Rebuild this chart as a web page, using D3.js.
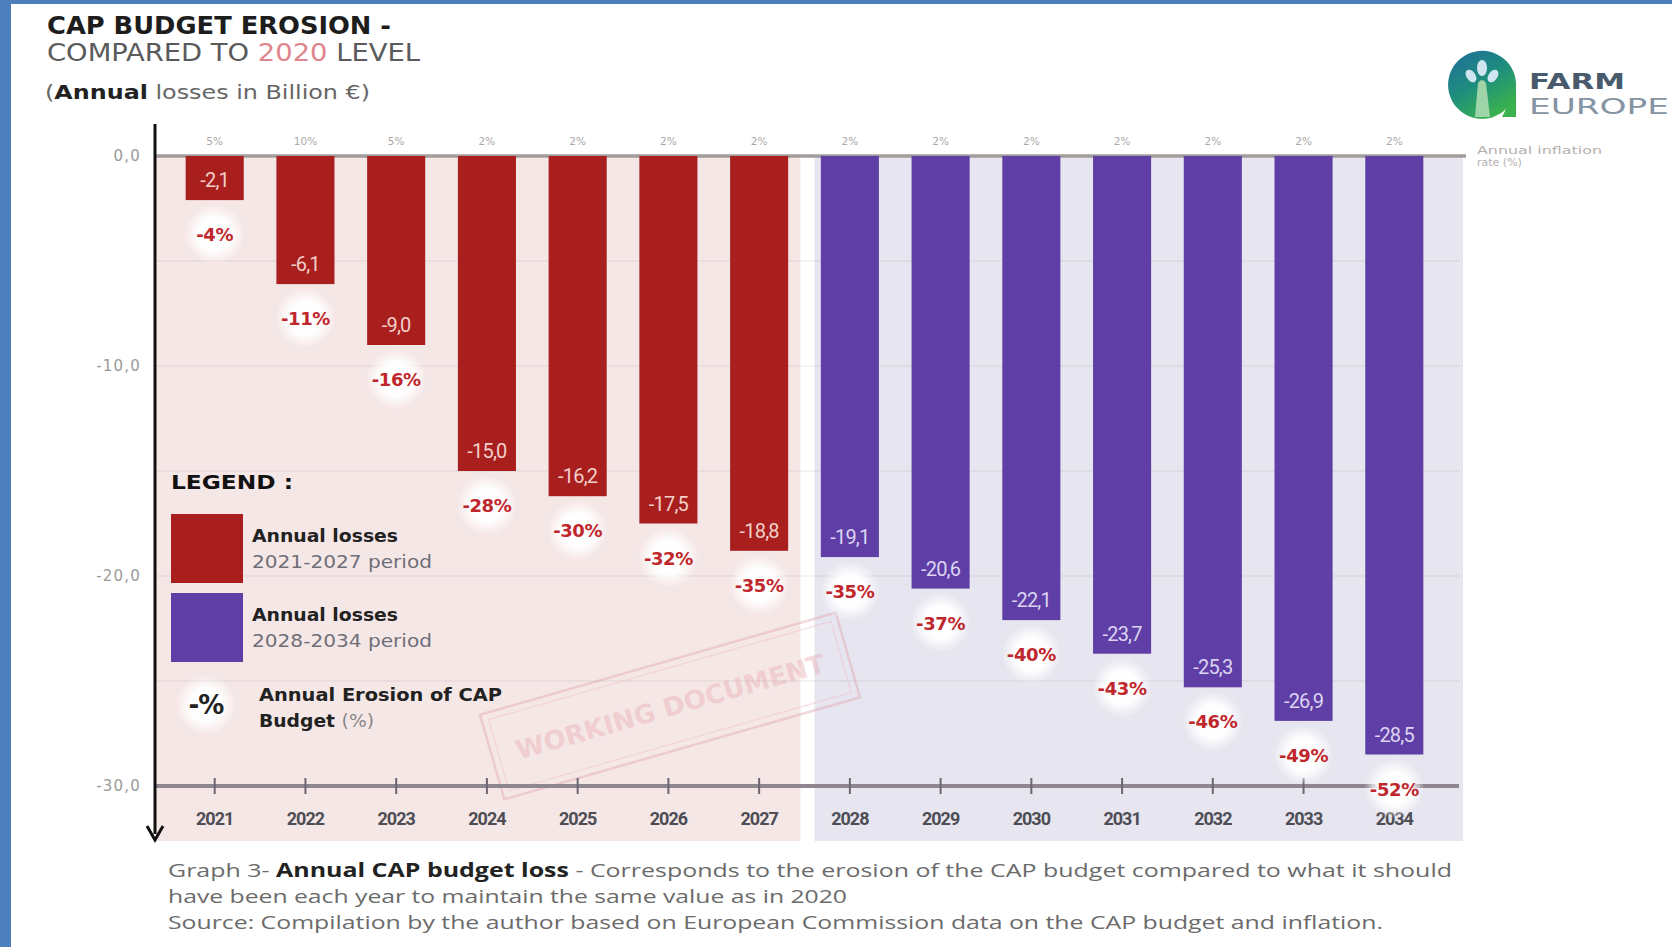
<!DOCTYPE html>
<html>
<head>
<meta charset="utf-8">
<script src="https://cdn.jsdelivr.net/npm/d3@7"></script>
<style>
  html, body { margin: 0; padding: 0; background: #ffffff; }
  svg { display: block; }
</style>
</head>
<body>
<svg id="chart" width="1672" height="947"></svg>
<script>
// ---------- DATA ----------
const years = ["2021","2022","2023","2024","2025","2026","2027","2028","2029","2030","2031","2032","2033","2034"];
const losses = [-2.1, -6.1, -9.0, -15.0, -16.2, -17.5, -18.8, -19.1, -20.6, -22.1, -23.7, -25.3, -26.9, -28.5];
const erosion = [-4, -11, -16, -28, -30, -32, -35, -35, -37, -40, -43, -46, -49, -52];
const inflation = [5, 10, 5, 2, 2, 2, 2, 2, 2, 2, 2, 2, 2, 2];
const periods = ["2021-2027","2021-2027","2021-2027","2021-2027","2021-2027","2021-2027","2021-2027",
                 "2028-2034","2028-2034","2028-2034","2028-2034","2028-2034","2028-2034","2028-2034"];
const yTicks = [0, -10, -20, -30];
const gridTicks = [-5, -10, -15, -20, -25];

// ---------- SETUP ----------
const W = 1672, H = 947;
const svg = d3.select("#chart");
const fmtLocale = d3.formatLocale({decimal: ",", thousands: ".", grouping: [3], currency: ["", "€"], minus: "-"});
const fmt1 = fmtLocale.format(".1f");

const colors = { "2021-2027": "#a81f1e", "2028-2034": "#5f3fa5" };
const panelColors = { "2021-2027": "#f6e7e7", "2028-2034": "#e7e5ef" };
const labelColors = { "2021-2027": "#f3cfc9", "2028-2034": "#dcd4f2" };

const axisX = 155;
const x = d3.scaleBand().domain(years).range([153, 1456]).paddingInner(0.36).paddingOuter(0.36);
const y = d3.scaleLinear().domain([0, -30]).range([156, 786]);

const defs = svg.append("defs");
const halo = defs.append("radialGradient").attr("id", "halo");
halo.append("stop").attr("offset", "0%").attr("stop-color", "#fff").attr("stop-opacity", 1);
halo.append("stop").attr("offset", "55%").attr("stop-color", "#fff").attr("stop-opacity", 0.95);
halo.append("stop").attr("offset", "100%").attr("stop-color", "#fff").attr("stop-opacity", 0);

const logoGrad = defs.append("linearGradient").attr("id", "logoGrad")
  .attr("x1", "0%").attr("y1", "0%").attr("x2", "60%").attr("y2", "100%");
logoGrad.append("stop").attr("offset", "0%").attr("stop-color", "#1f6c9c");
logoGrad.append("stop").attr("offset", "55%").attr("stop-color", "#1e8f7c");
logoGrad.append("stop").attr("offset", "100%").attr("stop-color", "#3bb24e");

// ---------- FRAME (blue border) ----------
svg.append("rect").attr("x", 0).attr("y", 0).attr("width", W).attr("height", 4).attr("fill", "#4d7fbd");
svg.append("rect").attr("x", 0).attr("y", 0).attr("width", 11).attr("height", H).attr("fill", "#4d7fbd");

// ---------- PANELS ----------
const step = x.step();
const mid = x("2027") + x.bandwidth() / 2 + step / 2;
const panelTop = y(0), panelBottom = 841;
svg.append("rect").attr("x", axisX).attr("y", panelTop).attr("width", mid - 4 - axisX)
  .attr("height", panelBottom - panelTop).attr("fill", panelColors["2021-2027"]);
svg.append("rect").attr("x", mid + 10).attr("y", panelTop).attr("width", 1463 - (mid + 10))
  .attr("height", panelBottom - panelTop).attr("fill", panelColors["2028-2034"]);

// gridlines
svg.append("g").selectAll("line").data(gridTicks).join("line")
  .attr("x1", axisX).attr("x2", 1460)
  .attr("y1", d => y(d)).attr("y2", d => y(d))
  .attr("stroke", "#000").attr("stroke-opacity", 0.06).attr("stroke-width", 1.5);

// ---------- WORKING DOCUMENT STAMP ----------
const stamp = svg.append("g").attr("transform", "translate(670,706) rotate(-16)").attr("opacity", 0.42);
stamp.append("rect").attr("x", -185).attr("y", -44).attr("width", 370).attr("height", 88)
  .attr("fill", "none").attr("stroke", "#e3a3ab").attr("stroke-width", 2.5);
stamp.append("rect").attr("x", -178).attr("y", -37).attr("width", 356).attr("height", 74)
  .attr("fill", "none").attr("stroke", "#eec0c5").attr("stroke-width", 1.5);
stamp.append("text").attr("x", 0).attr("y", 10).attr("text-anchor", "middle")
  .attr("font-family", "DejaVu Sans").attr("font-weight", "bold").attr("font-size", 26)
  .attr("fill", "#e6aab1").attr("textLength", 320).attr("lengthAdjust", "spacingAndGlyphs")
  .text("WORKING DOCUMENT");

// ---------- ZERO LINE & X AXIS ----------
svg.append("line").attr("x1", axisX).attr("x2", 1466).attr("y1", y(0)).attr("y2", y(0))
  .attr("stroke", "#a39c9c").attr("stroke-width", 3.5);

const xAxis = d3.axisBottom(x).tickSizeInner(8).tickSizeOuter(0).tickPadding(18);
const gx = svg.append("g").attr("transform", `translate(0,${y(-30)})`).call(xAxis);
gx.select(".domain").remove();
gx.insert("line", ":first-child").attr("x1", axisX).attr("x2", 1459).attr("y1", 0).attr("y2", 0)
  .attr("stroke", "#8e8790").attr("stroke-width", 4);
gx.selectAll(".tick line").attr("y1", -8).attr("y2", 8).attr("stroke", "#6d6670").attr("stroke-width", 2);
gx.selectAll(".tick text").attr("font-family", "Roboto").attr("font-weight", "bold")
  .attr("font-size", 18).attr("fill", "#4d4d55").attr("letter-spacing", -1);

// ---------- Y AXIS ----------
const yAxis = d3.axisLeft(y).tickValues(yTicks).tickSize(0).tickPadding(14).tickFormat(d => fmt1(d));
const gy = svg.append("g").attr("transform", `translate(${axisX},0)`).call(yAxis);
gy.select(".domain").remove();
gy.selectAll(".tick text").attr("font-family", "DejaVu Sans").attr("font-size", 15)
  .attr("letter-spacing", 1.2).attr("fill", "#9a9a9a");
svg.append("line").attr("x1", axisX).attr("x2", axisX).attr("y1", 124).attr("y2", 834)
  .attr("stroke", "#111").attr("stroke-width", 3);
svg.append("path").attr("d", `M${axisX - 8},826 L${axisX},840 L${axisX + 8},826`)
  .attr("fill", "none").attr("stroke", "#111").attr("stroke-width", 3);

// ---------- BARS ----------
const rows = years.map((yr, i) => ({ yr, v: losses[i], e: erosion[i], inf: inflation[i], p: periods[i] }));

svg.append("g").selectAll("rect").data(rows).join("rect")
  .attr("x", d => x(d.yr)).attr("width", x.bandwidth())
  .attr("y", y(0)).attr("height", d => y(d.v) - y(0))
  .attr("fill", d => colors[d.p]);

// value labels inside bars
svg.append("g").selectAll("text").data(rows).join("text")
  .attr("x", d => x(d.yr) + x.bandwidth() / 2).attr("y", d => y(d.v) - 13)
  .attr("text-anchor", "middle").attr("font-family", "Roboto").attr("font-size", 20)
  .attr("letter-spacing", -0.8)
  .attr("fill", d => labelColors[d.p]).text(d => fmt1(d.v));

// inflation labels
svg.append("g").selectAll("text").data(rows).join("text")
  .attr("x", d => x(d.yr) + x.bandwidth() / 2).attr("y", 145)
  .attr("text-anchor", "middle").attr("font-family", "DejaVu Sans").attr("font-size", 10.5)
  .attr("fill", "#aca8a8").text(d => d.inf + "%");

// erosion % halos and labels
const pg = svg.append("g");
pg.selectAll("circle").data(rows).join("circle")
  .attr("cx", d => x(d.yr) + x.bandwidth() / 2).attr("cy", d => y(d.v) + 34)
  .attr("r", 30).attr("fill", "url(#halo)");
pg.selectAll("text").data(rows).join("text")
  .attr("x", d => x(d.yr) + x.bandwidth() / 2).attr("y", d => y(d.v) + 41)
  .attr("text-anchor", "middle").attr("font-family", "DejaVu Sans").attr("font-weight", "bold")
  .attr("font-size", 18).attr("letter-spacing", -0.4).attr("fill", "#c0272d")
  .text(d => d.e + "%");

// ---------- LEGEND ----------
const lg = svg.append("g");
lg.append("text").attr("x", 171).attr("y", 489).attr("font-family", "DejaVu Sans").attr("font-weight", "bold")
  .attr("font-size", 20).attr("fill", "#111").attr("textLength", 122).attr("lengthAdjust", "spacingAndGlyphs")
  .text("LEGEND :");
const legendItems = [
  { p: "2021-2027", y0: 514 },
  { p: "2028-2034", y0: 593 }
];
legendItems.forEach(it => {
  lg.append("rect").attr("x", 171).attr("y", it.y0).attr("width", 72).attr("height", 69).attr("fill", colors[it.p]);
  lg.append("text").attr("x", 252).attr("y", it.y0 + 28).attr("font-family", "DejaVu Sans").attr("font-weight", "bold")
    .attr("font-size", 17).attr("fill", "#222").attr("textLength", 146).attr("lengthAdjust", "spacingAndGlyphs")
    .text("Annual losses");
  lg.append("text").attr("x", 252).attr("y", it.y0 + 54).attr("font-family", "DejaVu Sans")
    .attr("font-size", 17).attr("fill", "#6f6f78").attr("textLength", 180).attr("lengthAdjust", "spacingAndGlyphs")
    .text(it.p + " period");
});
lg.append("circle").attr("cx", 206).attr("cy", 705).attr("r", 30).attr("fill", "url(#halo)");
lg.append("text").attr("x", 206).attr("y", 714).attr("text-anchor", "middle").attr("font-family", "DejaVu Sans")
  .attr("font-weight", "bold").attr("font-size", 26).attr("fill", "#222").attr("letter-spacing", -1).text("-%");
lg.append("text").attr("x", 259).attr("y", 701).attr("font-family", "DejaVu Sans").attr("font-weight", "bold")
  .attr("font-size", 17).attr("fill", "#222").attr("textLength", 243).attr("lengthAdjust", "spacingAndGlyphs")
  .text("Annual Erosion of CAP");
const bt = lg.append("text").attr("x", 259).attr("y", 727).attr("font-family", "DejaVu Sans")
  .attr("font-size", 17).attr("textLength", 115).attr("lengthAdjust", "spacingAndGlyphs");
bt.append("tspan").attr("font-weight", "bold").attr("fill", "#222").text("Budget ");
bt.append("tspan").attr("fill", "#888").text("(%)");

// ---------- TITLE ----------
svg.append("text").attr("x", 47).attr("y", 34).attr("font-family", "DejaVu Sans").attr("font-weight", "bold")
  .attr("font-size", 24).attr("fill", "#1d1d1d").attr("textLength", 344).attr("lengthAdjust", "spacingAndGlyphs")
  .text("CAP BUDGET EROSION -");
const t2 = svg.append("text").attr("x", 47).attr("y", 61).attr("font-family", "DejaVu Sans")
  .attr("font-size", 24).attr("textLength", 373).attr("lengthAdjust", "spacingAndGlyphs");
t2.append("tspan").attr("fill", "#5a5a5a").text("COMPARED TO ");
t2.append("tspan").attr("fill", "#e0868f").text("2020");
t2.append("tspan").attr("fill", "#5a5a5a").text(" LEVEL");
const t3 = svg.append("text").attr("x", 45).attr("y", 99).attr("font-family", "DejaVu Sans")
  .attr("font-size", 20).attr("textLength", 325).attr("lengthAdjust", "spacingAndGlyphs");
t3.append("tspan").attr("fill", "#666").text("(");
t3.append("tspan").attr("fill", "#222").attr("font-weight", "bold").text("Annual");
t3.append("tspan").attr("fill", "#666").text(" losses in Billion €)");

// ---------- LOGO ----------
const logo = svg.append("g").attr("transform", "translate(1482,81)");
logo.append("path")
  .attr("d", "M 24 28 A 34 34 0 1 1 34 6 L 34 36 L 20 36 Z")
  .attr("fill", "url(#logoGrad)");
logo.append("path")
  .attr("d", "M -7 36 L -4 2 Q 0 -4 4 2 L 8 36 Z")
  .attr("fill", "#9fd3a8");
logo.append("ellipse").attr("cx", 0).attr("cy", -13).attr("rx", 5).attr("ry", 8).attr("fill", "#cfe6f0");
logo.append("ellipse").attr("cx", -11).attr("cy", -5).attr("rx", 4.5).attr("ry", 7)
  .attr("transform", "rotate(-35,-11,-5)").attr("fill", "#cfe6f0");
logo.append("ellipse").attr("cx", 11).attr("cy", -5).attr("rx", 4.5).attr("ry", 7)
  .attr("transform", "rotate(35,11,-5)").attr("fill", "#cfe6f0");
svg.append("text").attr("x", 1529).attr("y", 89).attr("font-family", "DejaVu Sans").attr("font-weight", "bold")
  .attr("font-size", 22).attr("fill", "#485a6c").attr("textLength", 96).attr("lengthAdjust", "spacingAndGlyphs")
  .text("FARM");
svg.append("text").attr("x", 1529).attr("y", 114).attr("font-family", "DejaVu Sans")
  .attr("font-size", 22).attr("fill", "#8593a2").attr("textLength", 140).attr("lengthAdjust", "spacingAndGlyphs")
  .text("EUROPE");

svg.append("text").attr("x", 1477).attr("y", 154).attr("font-family", "DejaVu Sans").attr("font-size", 11)
  .attr("fill", "#b5b0b0").attr("textLength", 125).attr("lengthAdjust", "spacingAndGlyphs").text("Annual inflation");
svg.append("text").attr("x", 1477).attr("y", 166).attr("font-family", "DejaVu Sans").attr("font-size", 11)
  .attr("fill", "#b5b0b0").text("rate (%)");

// ---------- CAPTION ----------
const c1 = svg.append("text").attr("x", 168).attr("y", 877).attr("font-family", "Open Sans")
  .attr("font-size", 19).attr("textLength", 1284).attr("lengthAdjust", "spacingAndGlyphs");
c1.append("tspan").attr("fill", "#6b6b6b").text("Graph 3- ");
c1.append("tspan").attr("fill", "#222").attr("font-weight", "bold").text("Annual CAP budget loss");
c1.append("tspan").attr("fill", "#6b6b6b").text(" - Corresponds to the erosion of the CAP budget compared to what it should");
svg.append("text").attr("x", 168).attr("y", 903).attr("font-family", "Open Sans").attr("font-size", 19)
  .attr("fill", "#6b6b6b").attr("textLength", 679).attr("lengthAdjust", "spacingAndGlyphs")
  .text("have been each year to maintain the same value as in 2020");
svg.append("text").attr("x", 168).attr("y", 929).attr("font-family", "Open Sans").attr("font-size", 19)
  .attr("fill", "#6b6b6b").attr("textLength", 1215).attr("lengthAdjust", "spacingAndGlyphs")
  .text("Source: Compilation by the author based on European Commission data on the CAP budget and inflation.");
</script>
</body>
</html>
